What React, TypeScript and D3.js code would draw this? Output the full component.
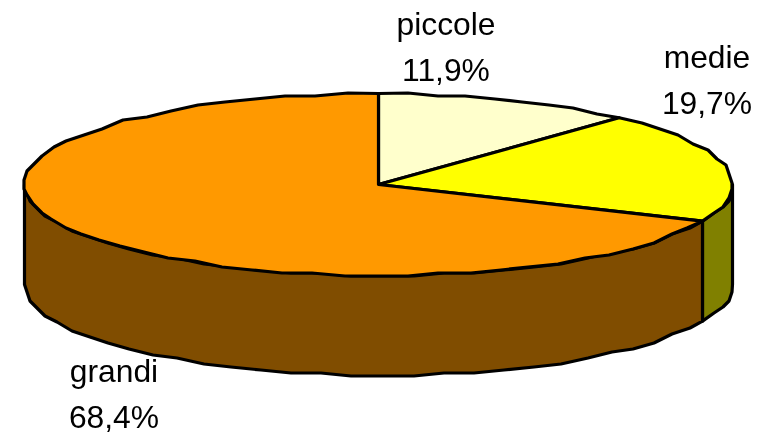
import React from "react";
import * as d3 from "d3";

const categories = ["piccole", "medie", "grandi"];
const shares = [11.9, 19.7, 68.4];
const shareLabels = ["11,9%", "19,7%", "68,4%"];
const topColors = ["#FFFFCC", "#FFFF00", "#FF9900"];
const sideColors = ["#808066", "#808000", "#804D00"];
const labelPositions = [
  { x: 446, y1: 35, y2: 81 },
  { x: 707, y1: 68, y2: 114 },
  { x: 114, y1: 382, y2: 428 },
];

const W = 767, H = 434;
const cx = 378.5, cy = 184.5, rx = 354, ry = 91, depth = 100;
const GRID = 3;
const snap = (v: number) => Math.round(v / GRID) * GRID;

const px = (a: number) => cx + rx * Math.sin(a);
const py = (a: number) => cy - ry * Math.cos(a);
const line = d3.line<[number, number]>();

function rim(a0: number, a1: number, dy = 0): [number, number][] {
  const n = Math.max(2, Math.ceil((a1 - a0) / 0.09));
  const pts: [number, number][] = [];
  const t = d3.scaleLinear().domain([0, n]).range([a0, a1]);
  for (let i = 0; i <= n; i++) {
    const a = t(i);
    const edge = i === 0 || i === n;
    pts.push(edge ? [px(a), py(a) + dy] : [snap(px(a)), snap(py(a)) + dy]);
  }
  return pts;
}

export default function App() {
  const arcs = d3.pie<number>().sort(null).value((d) => d).startAngle(0).endAngle(2 * Math.PI)(shares);
  const frontStart = Math.PI / 2, frontEnd = (3 * Math.PI) / 2;
  const stroke = { stroke: "#000", strokeWidth: 3.2, strokeLinejoin: "round" as const };
  return (
    <svg width={W} height={H} style={{ position: "fixed", left: 0, top: 0 }} fontFamily="Liberation Sans" fontSize={31.8}>
      {arcs.map((arc, i) => {
        const a0 = Math.max(arc.startAngle, frontStart), a1 = Math.min(arc.endAngle, frontEnd);
        if (a1 <= a0) return null;
        const lower = rim(a0, a1, depth);
        const upper = rim(a0, a1).reverse();
        return <path key={"s" + i} d={line([...lower, ...upper]) + "Z"} fill={sideColors[i]} {...stroke} />;
      })}
      {arcs.map((arc, i) => (
        <path key={"t" + i} d={line([[cx, cy], ...rim(arc.startAngle, arc.endAngle)]) + "Z"} fill={topColors[i]} {...stroke} />
      ))}
      {categories.map((c, i) => (
        <g key={c} textAnchor="middle" fill="#000">
          <text x={labelPositions[i].x} y={labelPositions[i].y1}>{c}</text>
          <text x={labelPositions[i].x} y={labelPositions[i].y2}>{shareLabels[i]}</text>
        </g>
      ))}
    </svg>
  );
}
